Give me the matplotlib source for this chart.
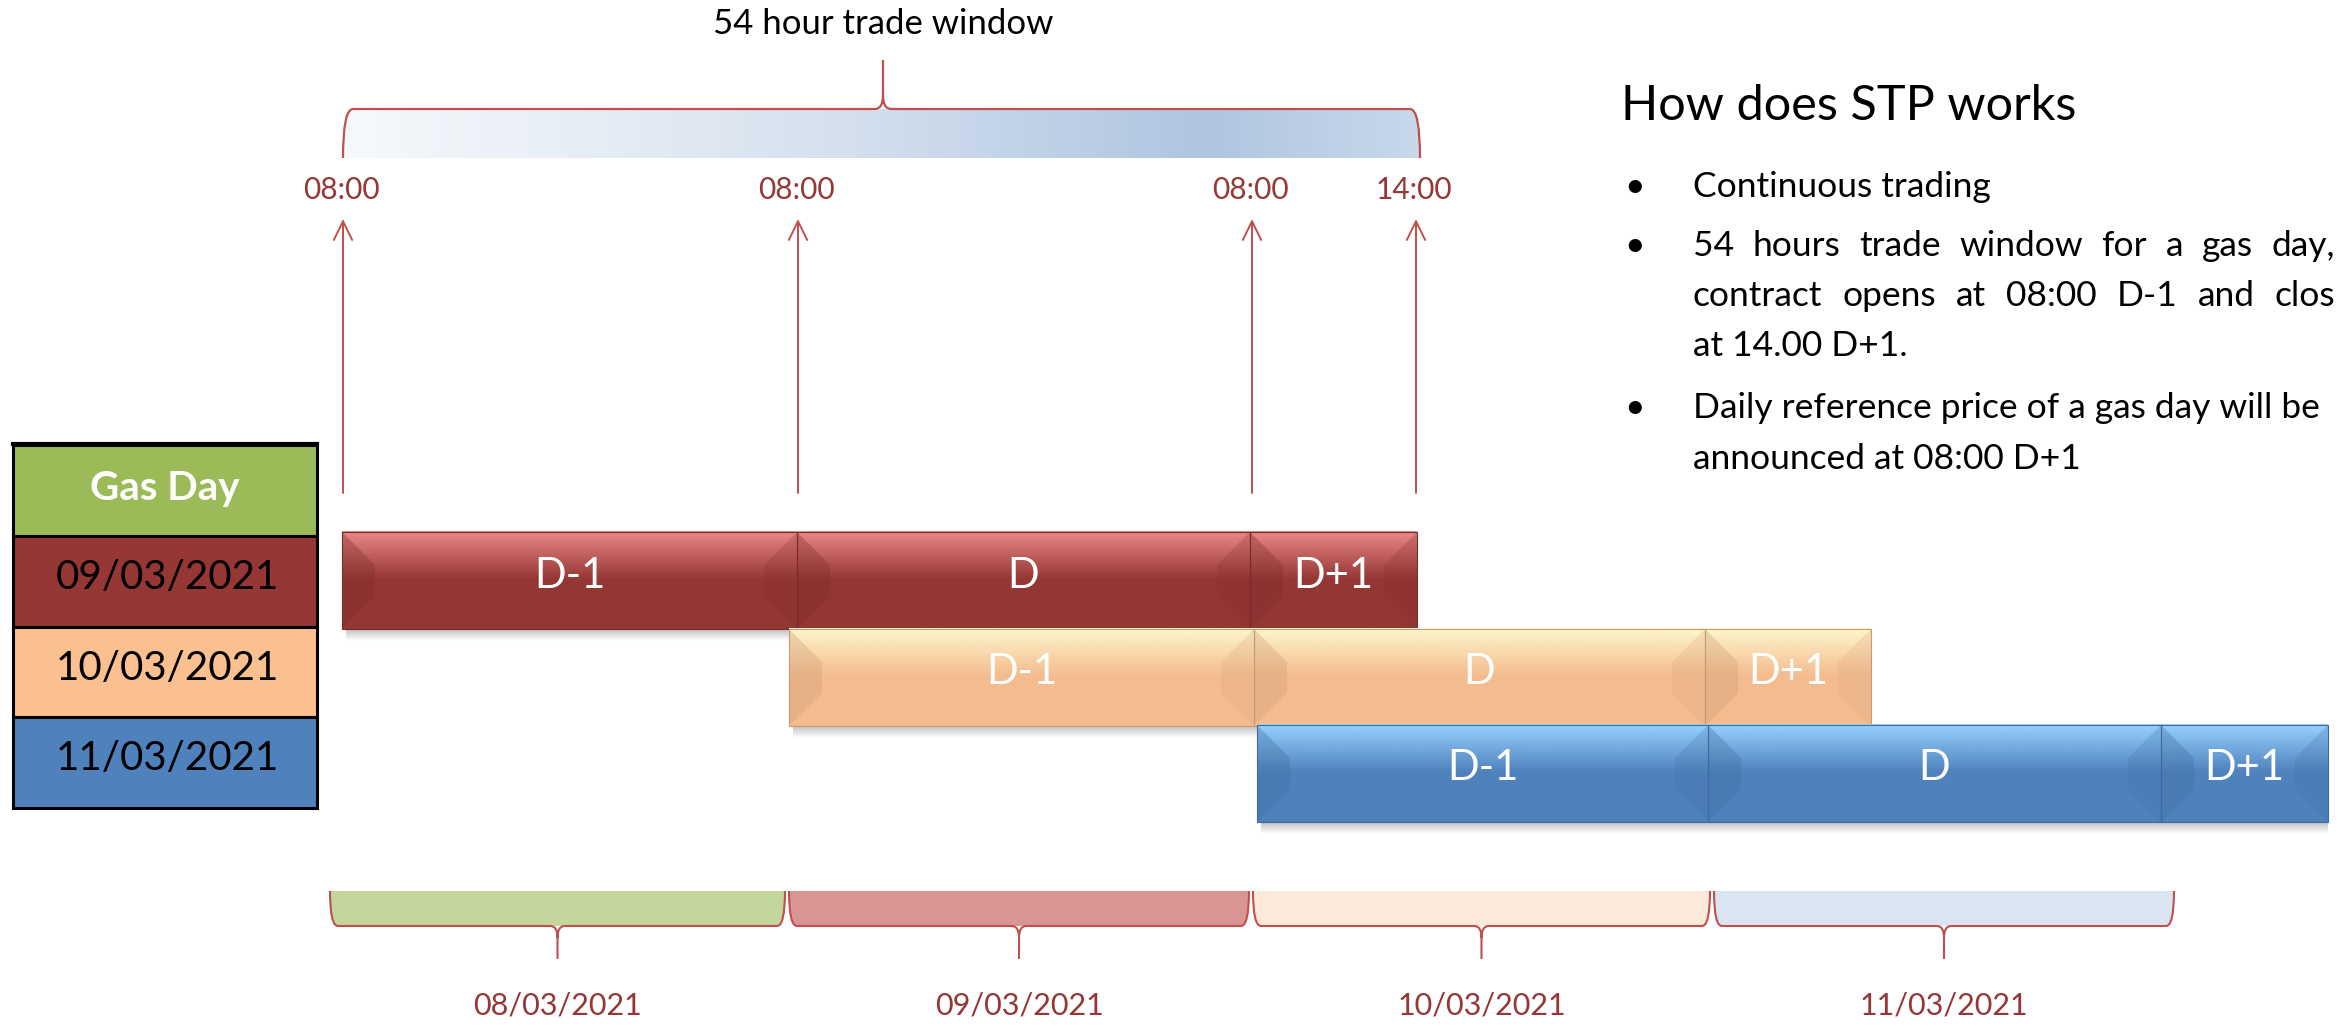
import numpy as np
import matplotlib
matplotlib.use('Agg')
import matplotlib.pyplot as plt
from matplotlib.patches import Rectangle, Polygon, PathPatch
from matplotlib.path import Path
from matplotlib.colors import LinearSegmentedColormap, to_rgb

plt.rcParams['font.family'] = ['Lato', 'DejaVu Sans']

W, H = 2338, 1025

# top timeline (positions, in px)
window_title = '54 hour trade window'
time_labels = ['08:00', '08:00', '08:00', '14:00']
time_x = [343, 798, 1252, 1416]

# gas day rows and their D-1 / D / D+1 segments
gas_days = ['09/03/2021', '10/03/2021', '11/03/2021']
seg_labels = ['D-1', 'D', 'D+1']
seg_edges = [[342, 797, 1250, 1417],
             [789, 1254, 1705, 1871],
             [1257, 1708, 2161, 2328]]
row_top = [532, 629, 725]
row_h = 97

# calendar days along the bottom
cal_days = ['08/03/2021', '09/03/2021', '10/03/2021', '11/03/2021']
cal_edges = [328, 787, 1251, 1712, 2176]

# right hand text, as far as the slide shows it (it runs off the edge)
heading = 'How does STP works'
bullets = [['Continuous trading'],
           ['54 hours trade window for a gas day,',
            'contract opens at 08:00 D-1 and clos',
            'at 14.00 D+1.'],
           ['Daily reference price of a gas day will be',
            'announced at 08:00 D+1']]
bullet_baselines = [[197], [256, 306, 356], [418, 469]]

# colours
row_colors = ['#943634', '#f3bb8e', '#4f81bd']
row_hilite = ['#ec8a87', '#fff7cc', '#97d2ff']
table_colors = ['#9bbb59', '#953735', '#fac090', '#4f81bd']
cal_colors = ['#c3d69b', '#d99594', '#fde9d9', '#dbe5f1']
line_red = '#c0504d'
text_red = '#953735'

fig = plt.figure(figsize=(W / 100, H / 100), dpi=100)
ax = fig.add_axes([0, 0, 1, 1])
ax.set_xlim(0, W)
ax.set_ylim(H, 0)
ax.axis('off')


def vgrad(x0, x1, y0, y1, color, a0, a1, z):
    c = to_rgb(color)
    img = np.zeros((64, 2, 4))
    img[..., :3] = c
    img[..., 3] = np.linspace(a0, a1, 64)[:, None]
    ax.imshow(img, extent=(x0, x1, y1, y0), origin='upper', aspect='auto',
              interpolation='bilinear', zorder=z)


def darker(color, f):
    return tuple(np.array(to_rgb(color)) * f)


# ---- top brace with gradient ----
bx0, bx1 = time_x[0], time_x[-1] + 4
bxm = 883
byl, byb, bytip = 109, 158, 60
fill_path = Path([(bx0, byb), (bx0, byl), (bx0 + 10, byl), (bx1 - 10, byl),
                  (bx1, byl), (bx1, byb), (bx0, byb)],
                 [Path.MOVETO, Path.CURVE3, Path.CURVE3, Path.LINETO,
                  Path.CURVE3, Path.CURVE3, Path.CLOSEPOLY])
fill_patch = PathPatch(fill_path, facecolor='none', edgecolor='none')
ax.add_patch(fill_patch)
cmap = LinearSegmentedColormap.from_list(
    'win', [(0, '#f6f9fc'), (0.45, '#d6e1ee'), (0.8, '#afc5e0'), (1, '#c9d8ea')])
grad = np.linspace(0, 1, 256)[None, :]
im = ax.imshow(grad, cmap=cmap, extent=(bx0, bx1, byb, byl), aspect='auto',
               origin='upper', zorder=1)
im.set_clip_path(fill_patch)

brace_path = Path([(bx0, byb), (bx0, byl), (bx0 + 10, byl), (bxm - 8, byl),
                   (bxm, byl), (bxm, byl - 14), (bxm, bytip),
                   (bxm, byl - 14), (bxm, byl), (bxm + 8, byl), (bx1 - 10, byl),
                   (bx1, byl), (bx1, byb)],
                  [Path.MOVETO, Path.CURVE3, Path.CURVE3, Path.LINETO,
                   Path.CURVE3, Path.CURVE3, Path.LINETO,
                   Path.MOVETO, Path.CURVE3, Path.CURVE3, Path.LINETO,
                   Path.CURVE3, Path.CURVE3])
ax.add_patch(PathPatch(brace_path, facecolor='none', edgecolor=line_red,
                       lw=1.6, zorder=2))
ax.text(bxm, 24, window_title, ha='center', va='center', fontsize=25,
        color='black')

# ---- time labels and arrows ----
for x, lab in zip(time_x, time_labels):
    ax.text(x - 2, 190, lab, ha='center', va='center', fontsize=21.5,
            color=text_red)
    ax.annotate('', xy=(x, 219), xytext=(x, 493),
                arrowprops=dict(arrowstyle='->,head_length=0.45,head_width=0.22',
                                color=line_red, lw=1.4, mutation_scale=30,
                                shrinkA=0, shrinkB=0))

# ---- gas day table ----
tx0, tx1 = 13, 317
t_tops = [445, 536, 627, 717, 808]
t_labels = ['Gas Day'] + gas_days
for i, lab in enumerate(t_labels):
    y0, y1 = t_tops[i], t_tops[i + 1]
    ax.add_patch(Rectangle((tx0, y0), tx1 - tx0, y1 - y0,
                           facecolor=table_colors[i], edgecolor='black',
                           lw=2.2, zorder=3))
    if i == 0:
        ax.text((tx0 + tx1) / 2, (y0 + y1) / 2 - 2, lab, ha='center',
                va='center', fontsize=29, fontweight='bold', color='white',
                zorder=4)
    else:
        ax.text((tx0 + tx1) / 2 + 2, (y0 + y1) / 2 - 4, lab, ha='center',
                va='center', fontsize=29, color='black', zorder=4)
ax.plot([tx0, tx1], [t_tops[0] - 1, t_tops[0] - 1], color='black', lw=3,
        zorder=4)

# ---- bevelled bars ----
bev = 33
for r, edges in enumerate(seg_edges):
    y0 = row_top[r]
    y1 = y0 + row_h
    base = row_colors[r]
    z = 5 + r
    # drop shadow
    vgrad(edges[0] + 4, edges[-1], y1, y1 + 12, '#000000', 0.25, 0.0, z - 0.5)
    for s, lab in enumerate(seg_labels):
        x0, x1 = edges[s], edges[s + 1]
        ax.add_patch(Rectangle((x0, y0), x1 - x0, row_h, facecolor=base,
                               edgecolor='none', zorder=z))
        # top highlight
        vgrad(x0, x1, y0, y0 + row_h * 0.5, row_hilite[r], 1.0, 0.0, z + 0.1)
        # side bevels
        ax.add_patch(Polygon([(x0, y0), (x0 + bev, y0 + bev),
                              (x0 + bev, y1 - bev), (x0, y1)], closed=True,
                             facecolor=darker(base, 0.85), edgecolor='none',
                             alpha=0.35, zorder=z + 0.2))
        ax.add_patch(Polygon([(x1, y0), (x1 - bev, y0 + bev),
                              (x1 - bev, y1 - bev), (x1, y1)], closed=True,
                             facecolor=darker(base, 0.9), edgecolor='none',
                             alpha=0.25, zorder=z + 0.2))
        ax.add_patch(Rectangle((x0, y0), x1 - x0, row_h, facecolor='none',
                               edgecolor=darker(base, 0.82), lw=0.8,
                               zorder=z + 0.3))
        ax.text((x0 + x1) / 2, (y0 + y1) / 2 - 5, lab, ha='center',
                va='center', fontsize=30, color='white', zorder=z + 0.4)

# ---- bottom braces for calendar days ----
cyt, cyl, cytip = 891, 926, 959
for i, lab in enumerate(cal_days):
    x0, x1 = cal_edges[i] + 2, cal_edges[i + 1] - 2
    xm = (x0 + x1) / 2
    fp = Path([(x0, cyt), (x0, cyl), (x0 + 8, cyl), (x1 - 8, cyl),
               (x1, cyl), (x1, cyt), (x0, cyt)],
              [Path.MOVETO, Path.CURVE3, Path.CURVE3, Path.LINETO,
               Path.CURVE3, Path.CURVE3, Path.CLOSEPOLY])
    ax.add_patch(PathPatch(fp, facecolor=cal_colors[i], edgecolor='none',
                           zorder=2))
    lp = Path([(x0, cyt), (x0, cyl), (x0 + 8, cyl), (xm - 7, cyl),
               (xm, cyl), (xm, cyl + 12), (xm, cytip),
               (xm, cyl + 12), (xm, cyl), (xm + 7, cyl), (x1 - 8, cyl),
               (x1, cyl), (x1, cyt)],
              [Path.MOVETO, Path.CURVE3, Path.CURVE3, Path.LINETO,
               Path.CURVE3, Path.CURVE3, Path.LINETO,
               Path.MOVETO, Path.CURVE3, Path.CURVE3, Path.LINETO,
               Path.CURVE3, Path.CURVE3])
    ax.add_patch(PathPatch(lp, facecolor='none', edgecolor=line_red, lw=1.5,
                           zorder=3))
    ax.text(xm, 1005, lab, ha='center', va='center', fontsize=22,
            color=text_red)

# ---- explanation text on the right ----
ax.text(1621, 120, heading, ha='left', va='baseline', fontsize=35,
        color='black')

renderer = fig.canvas.get_renderer()
text_x, right_x = 1693, 2335
fs = 25.5
for p, (para, ys) in enumerate(zip(bullets, bullet_baselines)):
    ax.text(1624, ys[0], '\u2022', ha='left', va='baseline', fontsize=fs,
            color='black')
    for j, (line, y) in enumerate(zip(para, ys)):
        # the second paragraph is justified on the slide
        if p == 1 and j < len(para) - 1:
            words = line.split(' ')
            tts = [ax.text(0, y, w, ha='left', va='baseline', fontsize=fs,
                           color='black') for w in words]
            widths = [t.get_window_extent(renderer).width for t in tts]
            gap = (right_x - text_x - sum(widths)) / (len(words) - 1)
            x = text_x
            for t, w in zip(tts, widths):
                t.set_x(x)
                x += w + gap
        else:
            ax.text(text_x, y, line, ha='left', va='baseline', fontsize=fs,
                    color='black')

fig.savefig('out.png', dpi=100)
